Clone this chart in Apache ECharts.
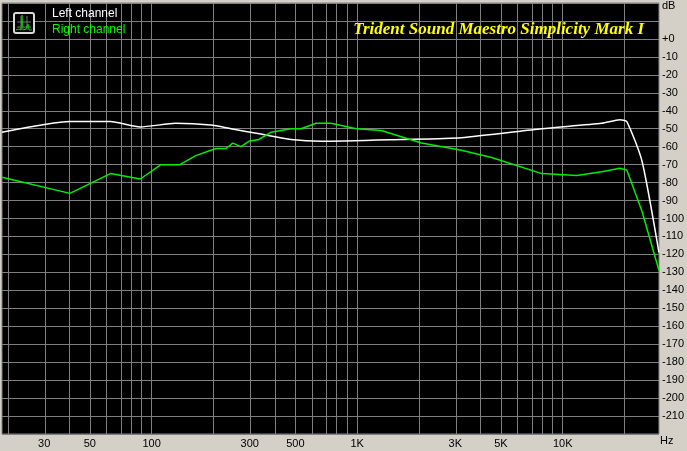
<!DOCTYPE html>
<html><head><meta charset="utf-8">
<script src="https://cdn.jsdelivr.net/npm/echarts@6/dist/echarts.min.js"></script>
<style>html,body{margin:0;padding:0;background:#d4d0c8}#c{width:687px;height:451px}</style>
</head><body><div id="c"></div>
<script>
const leftFreq = [18.7, 40, 63, 88, 131, 194, 243, 340, 476, 667, 1640, 3215, 7907, 15500, 18950, 20500, 24300, 29400];
const leftDb   = [-52, -46, -46, -49, -47, -48, -50, -53, -56, -57, -56, -55, -50, -47, -45, -46, -68, -119];
const rightFreq = [18.7, 40, 63, 88, 111, 137, 164, 205, 230, 248, 272, 297, 332, 380, 476, 533, 631, 746, 988, 1309, 2053, 3215, 4506, 7907, 11700, 15500, 18950, 20500, 24300, 29400];
const rightDb   = [-77, -86, -75, -78, -70, -70, -65, -61, -61, -58, -60, -57, -56, -52, -50, -50, -47, -47, -50, -51, -58, -62, -66, -75, -76, -74, -72, -73, -96, -129];
const gridFreqs = [20,30,40,50,60,70,80,90,100,200,300,400,500,600,700,800,900,1000,2000,3000,4000,5000,6000,7000,8000,9000,10000,20000];
const labelFreqs = [30,50,100,300,500,1000,3000,5000,10000];
const title = 'Trident Sound Maestro Simplicity Mark I';
const lg = Math.log10;
const toPts = (f, d) => f.map((v, i) => [lg(v), d[i]]);
const fmtF = f => f >= 1000 ? (f/1000) + 'K' : String(f);
const chart = echarts.init(document.getElementById('c'));
chart.setOption({
  backgroundColor: '#d4d0c8',
  animation: false,
  grid: {left: 2, right: 27, top: 3, bottom: 17, backgroundColor: '#000', show: true, borderColor: '#808080', borderWidth: 1},
  xAxis: {
    type: 'value', min: lg(18.7), max: lg(29400),
    axisLine: {show: false}, axisTick: {show: false}, splitLine: {show: false},
    axisLabel: {customValues: labelFreqs.map(lg), formatter: v => fmtF(Math.round(Math.pow(10, v))),
      color: '#000', fontFamily: 'Liberation Sans', fontSize: 11, margin: 4}
  },
  yAxis: {
    type: 'value', min: -220, max: 20, interval: 10, position: 'right',
    axisLine: {show: false}, axisTick: {show: false},
    splitLine: {lineStyle: {color: '#808080', width: 1}},
    axisLabel: {color: '#000', fontFamily: 'Liberation Sans', fontSize: 11, margin: 3,
      formatter: v => v === 20 ? '' : v === 10 ? '' : v === -220 ? '' : (v === 0 ? '+0' : String(v))}
  },
  graphic: [
    {type: 'text', left: 662, top: 0, style: {text: 'dB', fill: '#000', font: '11px Liberation Sans'}},
    {type: 'text', left: 660, top: 435, style: {text: 'Hz', fill: '#000', font: '11px Liberation Sans'}},
    {type: 'rect', z: 100, shape: {x: 14, y: 13, width: 20, height: 20, r: 2}, style: {fill: '#000', stroke: '#d8d8d8', lineWidth: 2}},
    {type: 'polyline', z: 101, shape: {points: [[17,22],[31,22]]}, style: {stroke: '#777', lineWidth: 1}},
    {type: 'polyline', z: 101, shape: {points: [[17,27],[31,27]]}, style: {stroke: '#777', lineWidth: 1}},
    {type: 'polyline', z: 101, shape: {points: [[21,16],[21,30]]}, style: {stroke: '#777', lineWidth: 1}},
    {type: 'polyline', z: 101, shape: {points: [[27,16],[27,30]]}, style: {stroke: '#777', lineWidth: 1}},
    {type: 'polyline', z: 102, shape: {points: [[16,30],[19,29],[21,30],[22,15],[23,30],[26,29],[28,24],[29,30],[32,30]]}, style: {stroke: '#0c0', fill: null, lineWidth: 1}},
    {type: 'text', z: 100, left: 52, top: 8, style: {text: 'Left channel', fill: '#fff', font: '12px Liberation Sans'}},
    {type: 'text', z: 100, left: 52, top: 24, style: {text: 'Right channel', fill: '#0f0', font: '12px Liberation Sans'}},
    {type: 'text', z: 100, right: 43, top: 21, style: {text: title, fill: '#ffff00', font: 'italic bold 17px Liberation Serif'}}
  ],
  series: [
    {type: 'line', data: [], markLine: {silent: true, symbol: 'none', label: {show: false},
      lineStyle: {color: '#808080', width: 1, type: 'solid'},
      data: gridFreqs.map(f => ({xAxis: lg(f)}))}},
    {name: 'Left channel', type: 'line', data: toPts(leftFreq, leftDb), showSymbol: false, smooth: 0.2,
      lineStyle: {color: '#ffffff', width: 1.5}, z: 5},
    {name: 'Right channel', type: 'line', data: toPts(rightFreq, rightDb), showSymbol: false,
      lineStyle: {color: '#00ee00', width: 1.5}, z: 6}
  ]
});
</script></body></html>
